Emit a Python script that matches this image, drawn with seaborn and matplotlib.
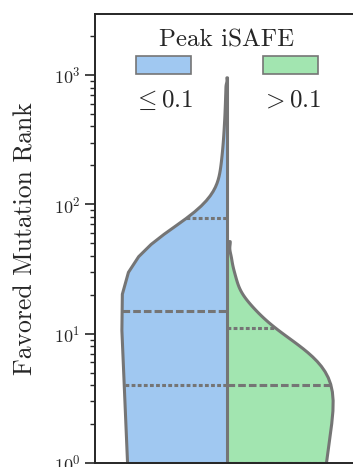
import numpy as np
import pandas as pd
import matplotlib
matplotlib.use("Agg")
import matplotlib.pyplot as plt
from matplotlib.patches import Patch
from matplotlib.offsetbox import VPacker
import seaborn as sns

# Rank of the favored mutation per sweep, tabulated as rank -> number of sweeps
low_ranks = [1, 2, 3, 4, 6, 8, 10, 12, 15, 20, 25, 30, 40, 50, 60, 79,
             100, 140, 180, 220, 260, 300, 340, 380, 420, 460, 500, 540,
             580, 620, 660, 700, 740, 780, 820, 860, 960]
low_counts = [250, 200, 160, 160, 180, 160, 150, 140, 150, 120, 100, 100,
              130, 130, 110, 130, 112, 80, 62, 51, 43, 37, 33, 29, 27, 24,
              22, 21, 19, 18, 17, 16, 15, 14, 14, 13, 12]
high_ranks = [1, 2, 3, 4, 5, 6, 7, 8, 9, 11, 12, 13, 15, 17, 19, 22, 25,
              28, 33, 40, 52]
high_counts = [17, 7, 5, 5, 3, 2, 2, 1, 1, 3, 1, 2, 2, 1, 1, 1, 1, 1, 1,
               1, 1]
groups = [r"$\leq 0.1$", r"$> 0.1$"]
colors = ["#a0c8f1", "#a2e5b0"]
edge = "#757575"

rank = np.concatenate([np.repeat(low_ranks, low_counts),
                       np.repeat(high_ranks, high_counts)])
peak = np.repeat(groups, [sum(low_counts), sum(high_counts)])
df = pd.DataFrame({"rank": rank, "peak": peak})

sns.set_theme(style="ticks")
plt.rcParams["font.family"] = "serif"
plt.rcParams["font.serif"] = ["cmr10"]
plt.rcParams["mathtext.fontset"] = "cm"
plt.rcParams["axes.formatter.use_mathtext"] = True
plt.rcParams["axes.unicode_minus"] = False
plt.rcParams["axes.linewidth"] = 1.4

fig = plt.figure(figsize=(3.53, 4.67), dpi=100)
ax = fig.add_axes([0.2691, 0.00857, 0.748, 0.9615])

sns.violinplot(data=df, y="rank", hue="peak", hue_order=groups, split=True,
               inner="quart", cut=0, density_norm="width", palette=colors,
               saturation=1, linecolor=edge, linewidth=2.2, legend=False,
               ax=ax)
ax.set_yscale("log")
ax.set_ylim(1, 2966)
ax.set_xlim(-0.5, 0.5)

ax.set_xlabel("")
ax.tick_params(axis="x", bottom=False, labelbottom=False)
ax.tick_params(axis="y", which="major", length=7, width=1.2, labelsize=13)
ax.tick_params(axis="y", which="minor", length=3.6, width=1.0)
ax.set_ylabel("Favored Mutation Rank", fontsize=18.5, labelpad=12)

handles = [Patch(facecolor=c, edgecolor=edge, linewidth=1.2) for c in colors]
leg = ax.legend(handles, groups, title="Peak iSAFE", loc="upper center",
                ncol=2, frameon=False, fontsize=18, title_fontsize=18,
                handlelength=2.2, handleheight=0.72, columnspacing=2.7,
                labelspacing=0.2, borderaxespad=0.2)
# stack each swatch above its label
for column in leg._legend_handle_box.get_children():
    column._children = [VPacker(pad=0, sep=11, align="center",
                                children=item.get_children())
                        for item in column.get_children()]

fig.savefig("out.png", dpi=100)
